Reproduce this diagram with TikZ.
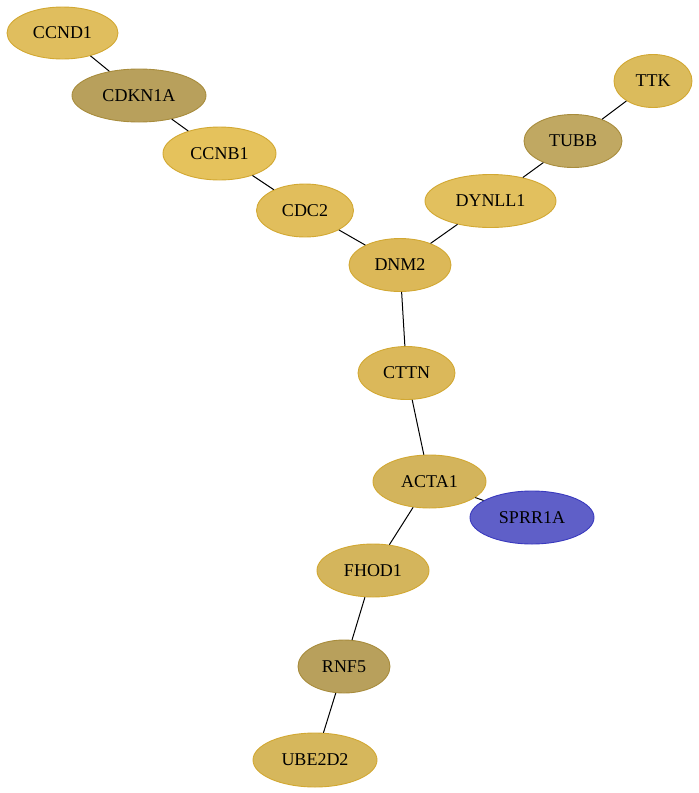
\documentclass[tikz,border=0pt]{standalone}
\usepackage{fontspec}
\setmainfont{Liberation Serif}
\usetikzlibrary{shapes.geometric}
\definecolor{cA}{HTML}{E0BE5E}
\definecolor{cB}{HTML}{B8A05C}
\definecolor{cC}{HTML}{E5C25C}
\definecolor{cD}{HTML}{E1BE5C}
\definecolor{cE}{HTML}{DCB858}
\definecolor{cF}{HTML}{DBBB5C}
\definecolor{cG}{HTML}{C0A862}
\definecolor{cH}{HTML}{E2C05E}
\definecolor{cI}{HTML}{DBB85A}
\definecolor{cJ}{HTML}{D3B45C}
\definecolor{cK}{HTML}{5F5FC8}
\definecolor{cL}{HTML}{D4B55C}
\definecolor{cM}{HTML}{B8A05C}
\definecolor{cN}{HTML}{D6B75C}
\definecolor{goldline}{HTML}{D2A832}
\definecolor{darkline}{HTML}{A88C3C}
\definecolor{blueline}{HTML}{3A3ABE}
\tikzset{
  gene/.style={ellipse, draw=goldline, line width=0.9pt, inner sep=0pt,
    font=\fontsize{18}{20}\selectfont, text=black},
  edge/.style={draw=black, line width=1pt}
}
\begin{document}
\begin{tikzpicture}[x=1pt,y=-1pt]
\useasboundingbox (0,0) rectangle (699,793);
\node[gene, fill=cA, minimum width=111pt, minimum height=52pt] (CCND1) at (62.5,33) {CCND1};
\node[gene, fill=cB, draw=darkline, minimum width=134pt, minimum height=53pt] (CDKN1A) at (139,95.5) {CDKN1A};
\node[gene, fill=cC, minimum width=113pt, minimum height=53pt] (CCNB1) at (219.5,153.5) {CCNB1};
\node[gene, fill=cD, minimum width=97pt, minimum height=53pt] (CDC2) at (305,210.5) {CDC2};
\node[gene, fill=cE, minimum width=102pt, minimum height=53pt] (DNM2) at (400,265) {DNM2};
\node[gene, fill=cF, minimum width=78pt, minimum height=53pt] (TTK) at (653,81) {TTK};
\node[gene, fill=cG, draw=darkline, minimum width=98pt, minimum height=53pt] (TUBB) at (573,141) {TUBB};
\node[gene, fill=cH, minimum width=131pt, minimum height=53pt] (DYNLL1) at (490.5,201) {DYNLL1};
\node[gene, fill=cI, minimum width=97pt, minimum height=53pt] (CTTN) at (406.5,373) {CTTN};
\node[gene, fill=cJ, minimum width=113pt, minimum height=53pt] (ACTA1) at (429.5,481.5) {ACTA1};
\node[gene, fill=cK, draw=blueline, minimum width=124pt, minimum height=53pt] (SPRR1A) at (532,517.5) {SPRR1A};
\node[gene, fill=cL, minimum width=112pt, minimum height=53pt] (FHOD1) at (373,570.5) {FHOD1};
\node[gene, fill=cM, draw=darkline, minimum width=92pt, minimum height=53pt] (RNF5) at (344,666.5) {RNF5};
\node[gene, fill=cN, minimum width=124pt, minimum height=54pt] (UBE2D2) at (315,760) {UBE2D2};
\draw[edge] (CCND1) -- (CDKN1A);
\draw[edge] (CDKN1A) -- (CCNB1);
\draw[edge] (CCNB1) -- (CDC2);
\draw[edge] (CDC2) -- (DNM2);
\draw[edge] (TTK) -- (TUBB);
\draw[edge] (TUBB) -- (DYNLL1);
\draw[edge] (DYNLL1) -- (DNM2);
\draw[edge] (DNM2) -- (CTTN);
\draw[edge] (CTTN) -- (ACTA1);
\draw[edge] (ACTA1) -- (SPRR1A);
\draw[edge] (ACTA1) -- (FHOD1);
\draw[edge] (FHOD1) -- (RNF5);
\draw[edge] (RNF5) -- (UBE2D2);
\end{tikzpicture}
\end{document}
